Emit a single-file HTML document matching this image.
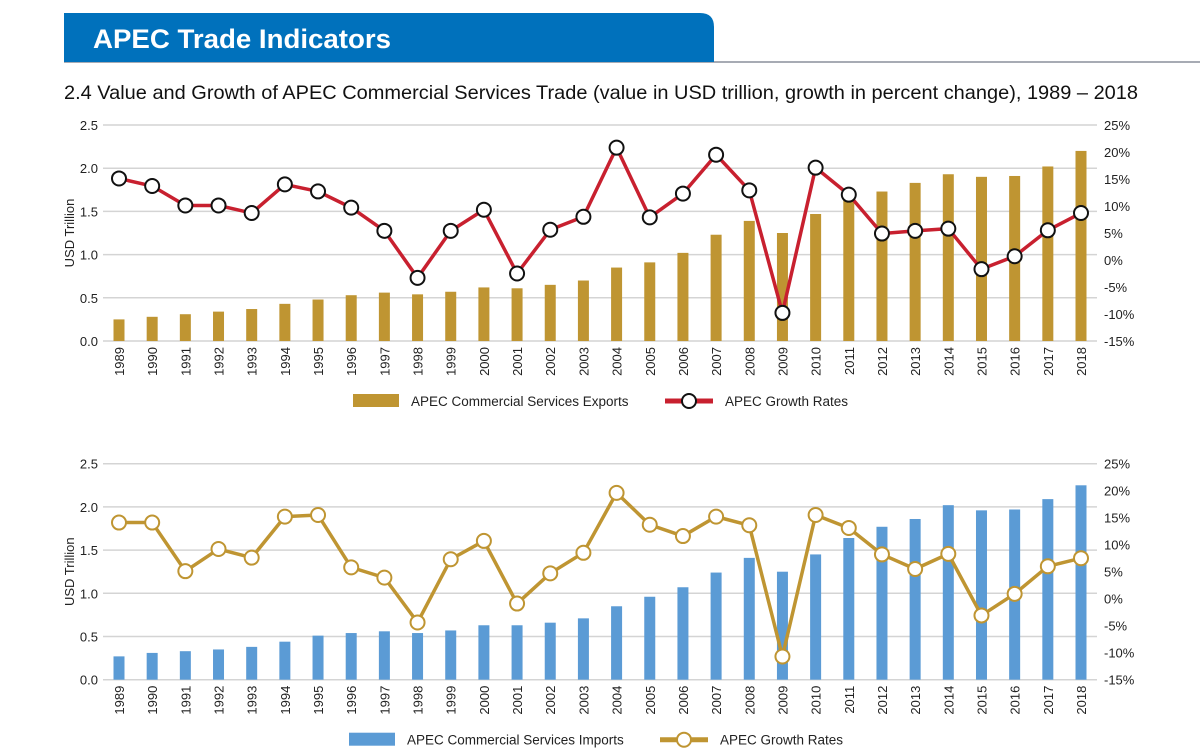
<!DOCTYPE html>
<html><head><meta charset="utf-8"><style>
body{margin:0;width:1200px;height:756px;background:#fff;overflow:hidden;font-family:"Liberation Sans",sans-serif}
svg{position:absolute;left:0;top:0}
</style></head><body>
<svg id="s" width="1200" height="756" xmlns="http://www.w3.org/2000/svg">
<line x1="64" y1="62" x2="1200" y2="62" stroke="#8a8f9c" stroke-width="1.5"/>
<path d="M64 13 H700 Q714 13 714 27 V62 H64 Z" fill="#0071bc"/>
<text x="93" y="48" fill="#fff" font-size="27" font-weight="bold" textLength="298" lengthAdjust="spacingAndGlyphs">APEC Trade Indicators</text>
<text x="64" y="99" fill="#111" font-size="19.5" textLength="1074" lengthAdjust="spacingAndGlyphs">2.4 Value and Growth of APEC Commercial Services Trade (value in USD trillion, growth in percent change), 1989 – 2018</text>
<g id="g1"></g>
<g id="g2"></g>
</svg>
<script>
const years=[1989,1990,1991,1992,1993,1994,1995,1996,1997,1998,1999,2000,2001,2002,2003,2004,2005,2006,2007,2008,2009,2010,2011,2012,2013,2014,2015,2016,2017,2018];
const exportsVals=[0.25,0.28,0.31,0.34,0.37,0.43,0.48,0.53,0.56,0.54,0.57,0.62,0.61,0.65,0.70,0.85,0.91,1.02,1.23,1.39,1.25,1.47,1.65,1.73,1.83,1.93,1.90,1.91,2.02,2.20];
const exportsGrowth=[15.1,13.7,10.1,10.1,8.7,14.0,12.7,9.7,5.4,-3.3,5.4,9.3,-2.5,5.6,8.0,20.8,7.9,12.3,19.5,12.9,-9.8,17.1,12.1,4.9,5.4,5.8,-1.7,0.7,5.5,8.7];
const importsVals=[0.27,0.31,0.33,0.35,0.38,0.44,0.51,0.54,0.56,0.54,0.57,0.63,0.63,0.66,0.71,0.85,0.96,1.07,1.24,1.41,1.25,1.45,1.64,1.77,1.86,2.02,1.96,1.97,2.09,2.25];
const importsGrowth=[14.1,14.1,5.1,9.2,7.6,15.2,15.5,5.8,3.9,-4.4,7.3,10.7,-0.9,4.7,8.5,19.6,13.7,11.6,15.2,13.6,-10.7,15.5,13.1,8.2,5.5,8.3,-3.1,0.9,6.0,7.5];
const leftTicks=["0.0","0.5","1.0","1.5","2.0","2.5"];
const rightTicks=["-15%","-10%","-5%","0%","5%","10%","15%","20%","25%"];
const NS="http://www.w3.org/2000/svg";
function mk(p,t,a){const e=document.createElementNS(NS,t);for(const k in a)e.setAttribute(k,a[k]);p.appendChild(e);return e;}
function chart(g,top,bot,vals,growth,barCol,lineCol,dotCol,legBar){
  const xL=103,xR=1097;
  const x=i=>119+i*(1081-119)/(years.length-1);
  const yL=v=>bot-(v/2.5)*(bot-top);
  const yR=v=>bot-((v+15)/40)*(bot-top);
  leftTicks.forEach(t=>{const v=parseFloat(t);
    const l=mk(g,'line',{x1:xL,x2:xR,y1:yL(v),y2:yL(v),stroke:'#d4d4d4','stroke-width':1.5});
    
    
    const tx=mk(g,'text',{x:98,y:yL(v)+5,'text-anchor':'end','font-size':13,fill:'#222'});tx.textContent=t;
    
    
  });
  rightTicks.forEach(t=>{const v=parseFloat(t);
    const tx=mk(g,'text',{x:1104,y:yR(v)+5,'font-size':13,fill:'#222'});tx.textContent=t;
    
    
  });
  const at=mk(g,'text',{x:0,y:0,'font-size':13,fill:'#222','text-anchor':'middle',transform:`translate(74,${(top+bot)/2}) rotate(-90)`});at.textContent='USD Trillion';
  
  
  years.forEach((yr,i)=>{
    const b=mk(g,'rect',{x:x(i)-5.5,y:yL(vals[i]),width:11,height:bot-yL(vals[i]),fill:barCol});
    
    
    const tx=mk(g,'text',{x:0,y:0,'font-size':13,fill:'#222','text-anchor':'end',transform:`translate(${x(i)+5},${bot+6}) rotate(-90)`});tx.textContent=yr;
    
    
  });
  const pl=mk(g,'polyline',{points:growth.map((v,i)=>x(i)+','+yR(v)).join(' '),fill:'none',stroke:lineCol,'stroke-width':3.5,'stroke-linejoin':'round'});
  
  
  growth.forEach((v,i)=>{
    const c=mk(g,'circle',{cx:x(i),cy:yR(v),r:7,fill:'#fff',stroke:dotCol,'stroke-width':2});
    
    
  });
  const ly=bot+60;
  const lb=mk(g,'rect',{x:legBar[0],y:ly-7,width:46,height:13,fill:barCol});
  
  
  const lt=mk(g,'text',{x:legBar[0]+58,y:ly+5,'font-size':13.5,fill:'#222'});lt.textContent=legBar[1];
  
  
  const ll=mk(g,'line',{x1:legBar[2],x2:legBar[2]+48,y1:ly,y2:ly,stroke:lineCol,'stroke-width':5});
  
  
  const lc=mk(g,'circle',{cx:legBar[2]+24,cy:ly,r:7,fill:'#fff',stroke:dotCol,'stroke-width':2});
  
  
  const lt2=mk(g,'text',{x:legBar[2]+60,y:ly+5,'font-size':13.5,fill:'#222'});lt2.textContent='APEC Growth Rates';
  
  
}
chart(document.getElementById('g1'),125,341,exportsVals,exportsGrowth,'#bf9532','#c8202f','#111',[353,'APEC Commercial Services Exports',665]);
chart(document.getElementById('g2'),463.7,679.7,importsVals,importsGrowth,'#5b9bd5','#bf9532','#bf9532',[349,'APEC Commercial Services Imports',660]);
</script>
</body></html>
